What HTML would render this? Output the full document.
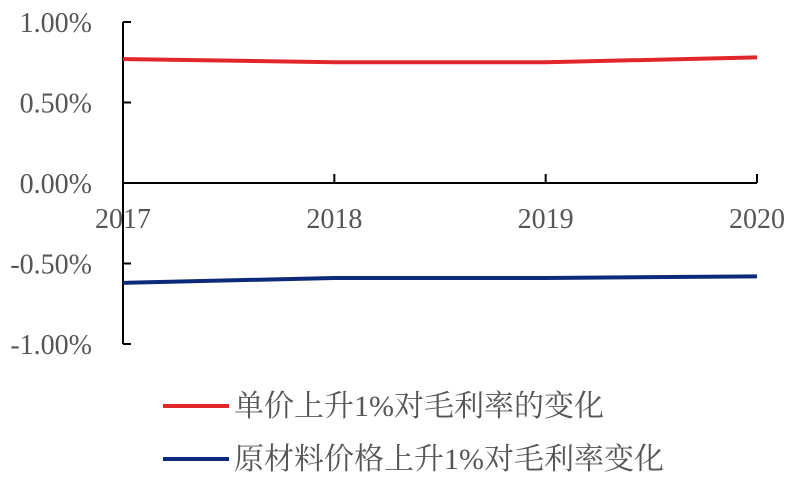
<!DOCTYPE html>
<html><head><meta charset="utf-8">
<style>
html,body{margin:0;padding:0;background:#fff;}
svg{display:block;}
text{font-family:"Liberation Serif","Noto Serif CJK SC",serif;fill:#555;}
</style></head>
<body>
<svg width="794" height="478" viewBox="0 0 794 478">
<g id="axes"></g>
<g id="series"></g>
<g id="legend">
  <line x1="163" y1="406" x2="229" y2="406" stroke="#e0262a" stroke-width="4"/>
  <text x="234" y="416" font-size="30">单价上升1%对毛利率的变化</text>
  <line x1="163" y1="459" x2="229" y2="459" stroke="#0d2a7a" stroke-width="4"/>
  <text x="234" y="469" font-size="30">原材料价格上升1%对毛利率变化</text>
</g>
</svg>
<script>
const categories = ["2017","2018","2019","2020"];
const priceSeries = [0.77, 0.75, 0.75, 0.78];
const materialSeries = [-0.62, -0.59, -0.59, -0.58];
const yTicks = [1.0, 0.5, 0.0, -0.5, -1.0];
const yTickLabels = ["1.00%","0.50%","0.00%","-0.50%","-1.00%"];

const NS = "http://www.w3.org/2000/svg";
const x0 = 123, x1 = 757;
const yScale = v => 183 - v * 161;
const xScale = i => x0 + i * (x1 - x0) / (categories.length - 1);
function mk(tag, attrs, parent){const e=document.createElementNS(NS,tag);for(const k in attrs)e.setAttribute(k,attrs[k]);parent.appendChild(e);return e;}
const axes = document.getElementById("axes");
const series = document.getElementById("series");

let yAxis = mk("line",{x1:x0,y1:yScale(1),x2:x0,y2:yScale(-1),stroke:"#000","stroke-width":2},axes);


yTicks.forEach((v,i)=>{
  const t = mk("line",{x1:x0,y1:yScale(v),x2:x0+8,y2:yScale(v),stroke:"#000","stroke-width":2},axes);
  
  
  const l = mk("text",{x:92,y:yScale(v)+10,"font-size":28,"text-anchor":"end"},axes);
  l.textContent = yTickLabels[i];
  
  
});
let xAxis = mk("line",{x1:x0,y1:yScale(0),x2:x1,y2:yScale(0),stroke:"#000","stroke-width":2},axes);


categories.forEach((c,i)=>{
  const x = xScale(i);
  const t = mk("line",{x1:x,y1:yScale(0)-9,x2:x,y2:yScale(0),stroke:"#000","stroke-width":2},axes);
  
  
  const l = mk("text",{x:x,y:228,"font-size":28,"text-anchor":"middle"},axes);
  l.textContent = c;
  
  
});
function drawLine(vals,color,name){
  const d = vals.map((v,i)=>(i?"L":"M")+xScale(i)+","+yScale(v)).join(" ");
  const p = mk("path",{d:d,fill:"none",stroke:color,"stroke-width":4,"stroke-linejoin":"round"},series);
  
  
}
drawLine(priceSeries,"#e0262a","price-line");
drawLine(materialSeries,"#0d2a7a","material-line");
</script>
</body></html>
